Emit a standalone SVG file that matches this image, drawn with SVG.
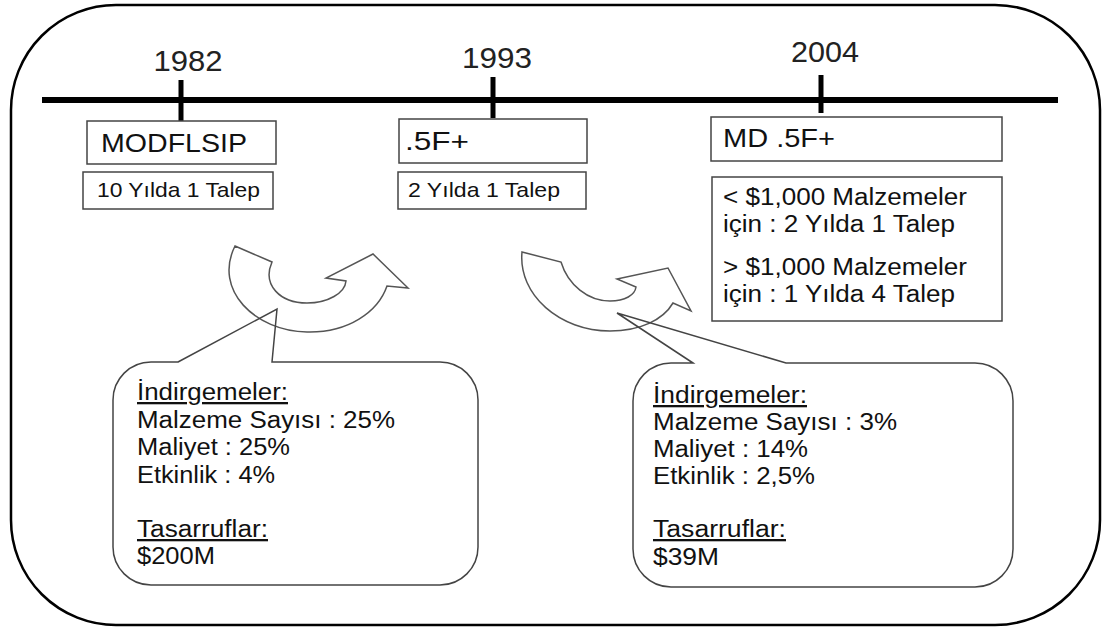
<svg xmlns="http://www.w3.org/2000/svg" width="1103" height="628" viewBox="0 0 1103 628">
  <style>
    text { font-family: "Liberation Sans", Arial, sans-serif; fill: #111; }
    .year { font-size: 30px; text-anchor: middle; fill: #222; }
    .title { font-size: 26px; }
    .small { font-size: 21px; }
    .body { font-size: 23px; }
    .box { fill: #fff; stroke: #444; stroke-width: 1.5; }
    .callout { fill: none; stroke: #444; stroke-width: 1.5; stroke-linejoin: miter; }
    .arrow { fill: none; stroke: #555; stroke-width: 1.5; stroke-linejoin: miter; }
    .ul { text-decoration: underline; }
  </style>

  <!-- outer frame -->
  <rect id="frame" x="11" y="5" width="1089" height="620" rx="105" ry="105" fill="#fff" stroke="#000" stroke-width="2.5"/>

  <!-- timeline axis with year ticks -->
  <g id="timeline" stroke="#000">
    <line x1="42" y1="100" x2="1058" y2="100" stroke-width="6"/>
    <line x1="181" y1="80" x2="181" y2="121" stroke-width="5"/>
    <line x1="493" y1="77" x2="493" y2="118" stroke-width="5"/>
    <line x1="821" y1="75" x2="821" y2="113" stroke-width="5"/>
  </g>
  <g id="years">
    <text class="year" x="188" y="71" textLength="69" lengthAdjust="spacingAndGlyphs">1982</text>
    <text class="year" x="497" y="68" textLength="70" lengthAdjust="spacingAndGlyphs">1993</text>
    <text class="year" x="825" y="62" textLength="68" lengthAdjust="spacingAndGlyphs">2004</text>
  </g>

  <!-- 1982 -->
  <g id="node-modflsip">
    <rect class="box" x="87" y="121" width="189" height="43"/>
    <text class="title" x="101" y="152" textLength="146" lengthAdjust="spacingAndGlyphs">MODFLSIP</text>
  </g>
  <g id="node-modflsip-rate">
    <rect class="box" x="83" y="172" width="190" height="37"/>
    <text class="small" x="97" y="197" textLength="163" lengthAdjust="spacingAndGlyphs">10 Yılda 1 Talep</text>
  </g>

  <!-- 1993 -->
  <g id="node-5f">
    <rect class="box" x="399" y="119" width="188" height="44"/>
    <text class="title" x="405" y="150" textLength="64" lengthAdjust="spacingAndGlyphs">.5F+</text>
  </g>
  <g id="node-5f-rate">
    <rect class="box" x="398" y="172" width="188" height="37"/>
    <text class="small" x="408" y="197" textLength="152" lengthAdjust="spacingAndGlyphs">2 Yılda 1 Talep</text>
  </g>

  <!-- 2004 -->
  <g id="node-md5f">
    <rect class="box" x="711" y="117" width="291" height="44"/>
    <text class="title" x="723" y="147" textLength="112" lengthAdjust="spacingAndGlyphs">MD .5F+</text>
  </g>
  <g id="node-md5f-rate">
    <rect class="box" x="712" y="177" width="290" height="144"/>
    <text class="body" x="723" y="205" textLength="244" lengthAdjust="spacingAndGlyphs">&lt; $1,000 Malzemeler</text>
    <text class="body" x="723" y="232" textLength="232" lengthAdjust="spacingAndGlyphs">için : 2 Yılda 1 Talep</text>
    <text class="body" x="723" y="275" textLength="244" lengthAdjust="spacingAndGlyphs">&gt; $1,000 Malzemeler</text>
    <text class="body" x="723" y="302" textLength="232" lengthAdjust="spacingAndGlyphs">için : 1 Yılda 4 Talep</text>
  </g>

  <!-- curved transition arrows -->
  <g id="connectors">
    <path id="arrow-1" class="arrow" d="M235,246 L272,262 C262,285 280,303 307,303 C328,303 345,293 346,281 L326,278 L373,254 L408,288 L387,286 C378,312 348,333 307,332 C255,331 213,290 235,246 Z"/>
    <path id="arrow-2" class="arrow" d="M522,252 L561,262 C568,285 588,301 610,301 C625,301 635,295 636,287 L617,279 L668,268 L691,311 L673,303 C663,320 640,331 610,331 C560,331 518,295 522,252 Z"/>
  </g>

  <!-- callout: 1982 to 1993 results -->
  <g id="callout-1">
    <path class="callout" d="M178,362 L277,309 L272,362 L440,362 A38,38 0 0 1 478,400 L478,547 A38,38 0 0 1 440,585 L151,585 A38,38 0 0 1 113,547 L113,400 A38,38 0 0 1 151,362 Z"/>
    <text class="body ul" x="137" y="400" textLength="151" lengthAdjust="spacingAndGlyphs">İndirgemeler:</text>
    <text class="body" x="137" y="428" textLength="258" lengthAdjust="spacingAndGlyphs">Malzeme Sayısı : 25%</text>
    <text class="body" x="137" y="455" textLength="153" lengthAdjust="spacingAndGlyphs">Maliyet : 25%</text>
    <text class="body" x="137" y="483" textLength="138" lengthAdjust="spacingAndGlyphs">Etkinlik : 4%</text>
    <text class="body ul" x="137" y="537" textLength="131" lengthAdjust="spacingAndGlyphs">Tasarruflar:</text>
    <text class="body" x="137" y="564" textLength="78" lengthAdjust="spacingAndGlyphs">$200M</text>
  </g>

  <!-- callout: 1993 to 2004 results -->
  <g id="callout-2">
    <path class="callout" d="M693,363 L617,313 L786,363 L975,363 A38,38 0 0 1 1013,401 L1013,549 A38,38 0 0 1 975,587 L671,587 A38,38 0 0 1 633,549 L633,401 A38,38 0 0 1 671,363 Z"/>
    <text class="body ul" x="653" y="403" textLength="154" lengthAdjust="spacingAndGlyphs">İndirgemeler:</text>
    <text class="body" x="653" y="430" textLength="244" lengthAdjust="spacingAndGlyphs">Malzeme Sayısı : 3%</text>
    <text class="body" x="653" y="457" textLength="155" lengthAdjust="spacingAndGlyphs">Maliyet : 14%</text>
    <text class="body" x="653" y="484" textLength="162" lengthAdjust="spacingAndGlyphs">Etkinlik : 2,5%</text>
    <text class="body ul" x="653" y="537" textLength="133" lengthAdjust="spacingAndGlyphs">Tasarruflar:</text>
    <text class="body" x="653" y="565" textLength="66" lengthAdjust="spacingAndGlyphs">$39M</text>
  </g>
</svg>
